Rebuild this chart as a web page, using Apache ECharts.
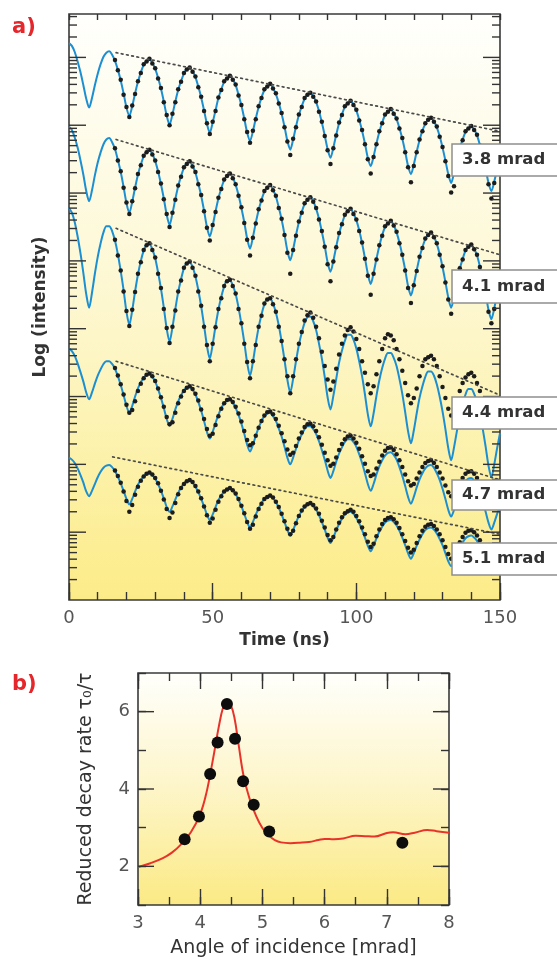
<!DOCTYPE html>
<html>
<head>
<meta charset="utf-8">
<script src="https://cdn.jsdelivr.net/npm/echarts/dist/echarts.min.js"></script>
<style>
  html, body { margin: 0; padding: 0; background: #ffffff; }
  #main { width: 557px; height: 960px; }
</style>
</head>
<body>
<div id="main"></div>
<script>
// ---------- Panel a: time spectra (log10 intensity, offset per angle) ----------
const fitTimes = [0,1,2,3,4,5,6,7,8,9,10,11,12,13,14,15,16,17,18,19,20,21,22,23,24,25,26,27,28,29,30,31,32,33,34,35,36,37,38,39,40,41,42,43,44,45,46,47,48,49,50,51,52,53,54,55,56,57,58,59,60,61,62,63,64,65,66,67,68,69,70,71,72,73,74,75,76,77,78,79,80,81,82,83,84,85,86,87,88,89,90,91,92,93,94,95,96,97,98,99,100,101,102,103,104,105,106,107,108,109,110,111,112,113,114,115,116,117,118,119,120,121,122,123,124,125,126,127,128,129,130,131,132,133,134,135,136,137,138,139,140,141,142,143,144,145,146,147,148,149,150];

const fit38 = [8.21,8.17,8.08,7.94,7.78,7.59,7.39,7.26,7.40,7.59,7.76,7.90,8.01,8.07,
  8.09,8.04,7.95,7.82,7.66,7.47,7.26,7.14,7.28,7.47,7.64,7.78,7.89,7.95,
  7.97,7.92,7.83,7.70,7.54,7.35,7.14,7.01,7.16,7.35,7.52,7.65,7.76,7.83,
  7.84,7.80,7.71,7.57,7.41,7.22,7.02,6.89,7.04,7.22,7.40,7.53,7.64,7.70,
  7.72,7.68,7.59,7.45,7.29,7.10,6.89,6.77,6.91,7.10,7.27,7.41,7.52,7.58,
  7.60,7.55,7.46,7.33,7.17,6.98,6.77,6.64,6.79,6.98,7.15,7.28,7.39,7.46,
  7.47,7.43,7.34,7.21,7.04,6.85,6.65,6.52,6.67,6.86,7.03,7.16,7.27,7.33,
  7.35,7.31,7.22,7.08,6.92,6.73,6.52,6.40,6.54,6.73,6.90,7.04,7.15,7.21,
  7.23,7.18,7.09,6.96,6.80,6.61,6.40,6.28,6.42,6.61,6.78,6.92,7.02,7.09,
  7.10,7.06,6.97,6.84,6.67,6.48,6.28,6.15,6.30,6.49,6.66,6.79,6.90,6.96,
  6.98,6.94,6.85,6.71,6.55,6.36,6.15,6.03,6.17,6.36,6.53];

const fit41 = [6.98,6.93,6.82,6.67,6.48,6.27,6.03,5.88,6.04,6.26,6.45,6.60,6.72,6.79,
  6.81,6.75,6.65,6.49,6.31,6.09,5.85,5.71,5.87,6.08,6.27,6.42,6.54,6.61,
  6.63,6.58,6.47,6.32,6.13,5.92,5.68,5.53,5.70,5.91,6.10,6.25,6.37,6.44,
  6.46,6.40,6.30,6.14,5.96,5.74,5.50,5.36,5.52,5.73,5.92,6.07,6.19,6.26,
  6.28,6.23,6.12,5.97,5.78,5.57,5.33,5.18,5.35,5.56,5.75,5.90,6.02,6.09,
  6.11,6.05,5.95,5.79,5.61,5.39,5.15,5.01,5.17,5.38,5.57,5.72,5.84,5.91,
  5.93,5.88,5.77,5.62,5.43,5.22,4.98,4.84,5.00,5.21,5.40,5.55,5.67,5.74,
  5.76,5.70,5.60,5.45,5.26,5.04,4.81,4.66,4.82,5.03,5.22,5.38,5.50,5.56,
  5.58,5.53,5.42,5.27,5.08,4.87,4.63,4.49,4.65,4.86,5.05,5.20,5.32,5.39,
  5.41,5.36,5.25,5.10,4.91,4.69,4.46,4.31,4.47,4.68,4.88,5.03,5.15,5.22,
  5.23,5.18,5.08,4.92,4.73,4.52,4.28,4.14,4.30,4.51,4.70];

const fit44 = [5.78,5.71,5.57,5.36,5.11,4.82,4.51,4.31,4.53,4.81,5.06,5.26,5.42,5.51,
  5.51,5.44,5.30,5.10,4.85,4.57,4.25,4.06,4.27,4.55,4.80,5.00,5.15,5.24,
  5.25,5.17,5.04,4.83,4.59,4.31,4.00,3.81,4.02,4.29,4.54,4.73,4.89,4.97,
  4.98,4.91,4.77,4.57,4.33,4.05,3.75,3.56,3.77,4.04,4.28,4.47,4.62,4.71,
  4.71,4.64,4.51,4.31,4.07,3.80,3.50,3.31,3.51,3.78,4.02,4.21,4.36,4.44,
  4.44,4.37,4.24,4.05,3.81,3.54,3.25,3.06,3.26,3.52,3.76,3.94,4.09,4.17,
  4.18,4.11,3.98,3.78,3.56,3.29,2.99,2.81,3.01,3.26,3.50,3.68,3.82,3.91,
  3.91,3.84,3.71,3.52,3.30,3.03,2.74,2.56,2.75,3.01,3.24,3.42,3.56,3.64,
  3.64,3.57,3.45,3.26,3.04,2.77,2.49,2.31,2.50,2.75,2.98,3.15,3.29,3.37,
  3.37,3.31,3.18,3.00,2.78,2.52,2.24,2.06,2.25,2.49,2.72,2.89,3.03,3.11,
  3.11,3.04,2.92,2.73,2.52,2.26,1.98,1.81,2.00,2.24,2.46];

const fit47 = [3.71,3.67,3.60,3.49,3.36,3.22,3.06,2.96,3.06,3.19,3.31,3.40,3.48,3.52,
  3.52,3.48,3.41,3.30,3.17,3.02,2.86,2.76,2.86,3.00,3.12,3.21,3.28,3.32,
  3.33,3.29,3.22,3.11,2.98,2.83,2.67,2.57,2.67,2.81,2.93,3.02,3.09,3.13,
  3.14,3.10,3.03,2.92,2.79,2.64,2.48,2.38,2.48,2.61,2.73,2.83,2.90,2.94,
  2.95,2.91,2.83,2.73,2.60,2.45,2.29,2.19,2.29,2.42,2.54,2.64,2.71,2.75,
  2.76,2.71,2.64,2.53,2.41,2.26,2.10,2.00,2.10,2.23,2.35,2.44,2.52,2.56,
  2.56,2.52,2.45,2.34,2.21,2.07,1.91,1.80,1.90,2.04,2.16,2.25,2.33,2.37,
  2.37,2.33,2.26,2.15,2.02,1.87,1.71,1.61,1.71,1.85,1.97,2.06,2.13,2.17,
  2.18,2.14,2.07,1.96,1.83,1.68,1.52,1.42,1.52,1.66,1.78,1.87,1.94,1.98,
  1.99,1.95,1.87,1.77,1.64,1.49,1.33,1.23,1.33,1.46,1.58,1.68,1.75,1.79,
  1.80,1.76,1.68,1.57,1.45,1.30,1.14,1.04,1.14,1.27,1.39];

const fit51 = [2.10,2.07,2.02,1.94,1.84,1.73,1.60,1.53,1.61,1.71,1.81,1.89,1.95,1.98,
  1.99,1.96,1.90,1.82,1.72,1.61,1.49,1.41,1.49,1.60,1.70,1.77,1.83,1.86,
  1.87,1.84,1.79,1.71,1.61,1.50,1.37,1.30,1.38,1.48,1.58,1.66,1.72,1.75,
  1.76,1.73,1.67,1.59,1.49,1.38,1.26,1.18,1.26,1.37,1.47,1.54,1.60,1.63,
  1.64,1.61,1.56,1.48,1.38,1.27,1.15,1.07,1.15,1.26,1.35,1.43,1.49,1.52,
  1.53,1.50,1.44,1.36,1.26,1.15,1.03,0.95,1.03,1.14,1.24,1.31,1.37,1.40,
  1.41,1.38,1.33,1.25,1.15,1.04,0.92,0.84,0.92,1.03,1.12,1.20,1.26,1.29,
  1.30,1.27,1.21,1.13,1.03,0.92,0.80,0.72,0.80,0.91,1.01,1.08,1.14,1.17,
  1.18,1.15,1.10,1.02,0.92,0.81,0.69,0.61,0.69,0.80,0.89,0.97,1.03,1.06,
  1.07,1.04,0.98,0.90,0.81,0.69,0.57,0.50,0.58,0.68,0.78,0.85,0.91,0.94,
  0.95,0.92,0.87,0.79,0.69,0.58,0.46,0.38,0.46,0.57,0.66];

// measured counts, one channel per ns from 16 to 148 ns
const dotTimes = [16,17,18,19,20,21,22,23,24,25,26,27,28,29,30,31,32,33,34,35,36,37,38,39,40,41,42,43,44,45,46,47,48,49,50,51,52,53,54,55,56,57,58,59,60,61,62,63,64,65,66,67,68,69,70,71,72,73,74,75,76,77,78,79,80,81,82,83,84,85,86,87,88,89,90,91,92,93,94,95,96,97,98,99,100,101,102,103,104,105,106,107,108,109,110,111,112,113,114,115,116,117,118,119,120,121,122,123,124,125,126,127,128,129,130,131,132,133,134,135,136,137,138,139,140,141,142,143,144,145,146,147,148];

const dots38 = [7.96,7.81,7.67,7.45,7.27,7.12,7.29,7.46,7.65,7.77,7.90,7.94,
  7.98,7.91,7.84,7.69,7.55,7.34,7.15,7.00,7.17,7.34,7.53,7.64,7.77,7.82,
  7.85,7.79,7.72,7.56,7.42,7.21,7.03,6.87,7.05,7.21,7.41,7.52,7.65,7.69,
  7.73,7.67,7.60,7.44,7.30,7.09,6.90,6.74,6.92,7.09,7.28,7.40,7.53,7.57,
  7.61,7.54,7.47,7.32,7.18,6.97,6.76,6.56,6.80,6.97,7.16,7.27,7.40,7.45,
  7.48,7.42,7.35,7.20,7.05,6.84,6.63,6.43,6.66,6.85,7.04,7.15,7.28,7.32,
  7.36,7.30,7.23,7.07,6.93,6.72,6.50,6.29,6.53,6.72,6.91,7.03,7.16,7.20,
  7.24,7.17,7.10,6.95,6.81,6.60,6.38,6.16,6.40,6.60,6.79,6.91,7.03,7.08,
  7.11,7.05,6.98,6.83,6.68,6.47,6.25,6.01,6.10,6.47,6.67,6.78,6.91,6.95,
  6.99,6.93,6.86,6.70,6.56,6.35,6.13,5.92,6.15];

const dots41 = [6.66,6.48,6.32,6.08,5.86,5.69,5.88,6.07,6.28,6.41,6.55,6.60,
  6.64,6.57,6.48,6.31,6.14,5.91,5.69,5.50,5.71,5.90,6.11,6.24,6.38,6.43,
  6.47,6.39,6.31,6.13,5.97,5.73,5.49,5.30,5.53,5.72,5.93,6.06,6.20,6.25,
  6.29,6.22,6.13,5.96,5.79,5.56,5.31,5.08,5.34,5.55,5.76,5.89,6.03,6.08,
  6.12,6.04,5.96,5.78,5.62,5.38,5.12,4.81,5.16,5.37,5.58,5.71,5.85,5.90,
  5.94,5.87,5.78,5.61,5.44,5.21,4.95,4.70,4.99,5.20,5.41,5.54,5.68,5.73,
  5.77,5.69,5.61,5.44,5.27,5.03,4.78,4.50,4.81,5.02,5.23,5.37,5.51,5.55,
  5.59,5.52,5.43,5.26,5.09,4.86,4.60,4.38,4.64,4.85,5.06,5.19,5.33,5.38,
  5.42,5.35,5.26,5.09,4.92,4.68,4.43,4.22,4.46,4.67,4.89,5.02,5.16,5.21,
  5.24,5.17,5.09,4.91,4.74,4.51,4.25,4.08,4.29];

const dots44 = [5.31,5.08,4.86,4.55,4.26,4.04,4.28,4.54,4.81,4.98,5.16,5.23,
  5.26,5.16,5.05,4.81,4.60,4.29,4.01,3.79,4.03,4.27,4.55,4.71,4.90,4.96,
  4.99,4.90,4.78,4.55,4.34,4.03,3.76,3.52,3.78,4.02,4.29,4.45,4.63,4.70,
  4.72,4.63,4.52,4.29,4.08,3.78,3.51,3.27,3.52,3.76,4.03,4.19,4.37,4.43,
  4.45,4.36,4.25,4.03,3.82,3.55,3.30,3.05,3.30,3.55,3.78,3.95,4.12,4.20,
  4.24,4.16,4.03,3.86,3.66,3.45,3.25,3.10,3.22,3.41,3.62,3.78,3.90,3.98,
  4.02,3.96,3.85,3.70,3.52,3.35,3.18,3.05,3.15,3.33,3.52,3.70,3.86,3.92,
  3.90,3.83,3.70,3.55,3.38,3.20,3.02,2.90,2.98,3.12,3.30,3.45,3.55,3.58,
  3.60,3.55,3.45,3.30,3.14,2.98,2.82,2.72,2.80,2.92,3.08,3.20,3.28,3.33,
  3.35,3.30,3.20,3.08,2.94,2.80,2.70,2.66,2.75];

const dots47 = [3.42,3.31,3.18,3.03,2.88,2.76,2.80,2.93,3.08,3.19,3.27,3.32,
  3.34,3.30,3.23,3.12,2.99,2.85,2.70,2.59,2.62,2.76,2.90,3.00,3.08,3.13,
  3.15,3.11,3.04,2.94,2.81,2.67,2.52,2.42,2.45,2.58,2.71,2.82,2.90,2.95,
  2.96,2.92,2.85,2.75,2.63,2.49,2.36,2.28,2.31,2.42,2.54,2.64,2.72,2.77,
  2.78,2.74,2.67,2.57,2.46,2.34,2.22,2.14,2.17,2.27,2.38,2.47,2.55,2.59,
  2.60,2.56,2.49,2.40,2.29,2.17,2.06,1.98,2.01,2.10,2.21,2.30,2.37,2.41,
  2.42,2.38,2.32,2.23,2.12,2.01,1.90,1.83,1.85,1.94,2.04,2.13,2.20,2.24,
  2.25,2.21,2.15,2.06,1.96,1.85,1.75,1.69,1.71,1.79,1.88,1.96,2.02,2.05,
  2.06,2.02,1.96,1.88,1.79,1.69,1.59,1.53,1.55,1.63,1.72,1.80,1.86,1.89,
  1.90,1.86,1.80,1.72,1.63,1.53,1.44,1.38,1.40];

const dots51 = [1.91,1.83,1.73,1.60,1.46,1.30,1.40,1.55,1.67,1.76,1.82,1.86,
  1.88,1.85,1.80,1.72,1.61,1.48,1.34,1.21,1.29,1.43,1.56,1.65,1.71,1.75,
  1.77,1.74,1.68,1.60,1.50,1.38,1.25,1.14,1.20,1.33,1.45,1.53,1.60,1.63,
  1.65,1.62,1.57,1.49,1.39,1.28,1.15,1.05,1.11,1.23,1.34,1.42,1.49,1.52,
  1.54,1.51,1.45,1.37,1.27,1.16,1.05,0.97,1.02,1.13,1.24,1.32,1.38,1.41,
  1.43,1.40,1.35,1.27,1.17,1.07,0.96,0.88,0.93,1.04,1.14,1.22,1.28,1.31,
  1.33,1.30,1.24,1.16,1.07,0.97,0.86,0.78,0.83,0.94,1.04,1.12,1.18,1.21,
  1.22,1.19,1.14,1.06,0.97,0.87,0.77,0.70,0.74,0.84,0.94,1.02,1.08,1.11,
  1.12,1.09,1.04,0.97,0.88,0.78,0.68,0.61,0.65,0.75,0.85,0.93,0.99,1.02,
  1.03,1.00,0.95,0.88,0.79,0.70,0.60,0.53,0.57];

// decay envelopes (straight lines in log scale), start -> 150 ns
const angleLabels = ['3.8 mrad', '4.1 mrad', '4.4 mrad', '4.7 mrad', '5.1 mrad'];
const decayStartT = [16.4, 16.4, 16.4, 16.4, 15.2];
const decayStartV = [8.07, 6.79, 5.48, 3.52, 2.11];
const decayEndT = [150, 150, 150, 150, 150];
const decayEndV = [6.91, 5.09, 3.02, 1.77, 0.97];
const timeTicks = [0, 50, 100, 150];

// ---------- Panel b: reduced decay rate vs angle ----------
const angleDots = [3.75, 3.98, 4.16, 4.28, 4.43, 4.56, 4.69, 4.86, 5.11, 7.25];
const rateDots  = [2.70, 3.29, 4.39, 5.20, 6.20, 5.30, 4.20, 3.59, 2.90, 2.61];
const curveAngle = [3.0,3.2,3.4,3.55,3.7,3.85,4.0,4.1,4.2,4.3,4.37,4.43,4.49,4.55,4.62,4.7,4.8,4.9,5.0,5.1,5.2,5.3,5.45,5.6,5.75,5.9,6.0,6.15,6.3,6.5,6.65,6.8,7.0,7.1,7.3,7.45,7.65,7.8,8.0];
const curveRate  = [1.98,2.08,2.21,2.36,2.58,2.88,3.35,3.90,4.72,5.62,6.12,6.30,6.18,5.85,5.12,4.32,3.72,3.30,2.99,2.80,2.68,2.62,2.60,2.61,2.63,2.68,2.71,2.70,2.72,2.79,2.78,2.77,2.86,2.88,2.83,2.87,2.94,2.91,2.87];

const FONT = 'DejaVu Sans';
const INK = '#333333';
const fits = [fit38, fit41, fit44, fit47, fit51];
const dots = [dots38, dots41, dots44, dots47, dots51];

// log-axis style tick marks: long at each decade, short at 2..9
const logTicks = [];
for (let n = 0; n <= 8; n++) {
  if (n > 0) logTicks.push([n, 17]);
  for (let k = 2; k <= 9; k++) {
    const v = n + Math.log10(k);
    if (v < 8.64) logTicks.push([v, 8]);
  }
}
const rateLongTicks = [[2, 16], [4, 16], [6, 16]];

function edgeTicks(xMin, xMax) {
  return function (params, api) {
    const v = api.value(0), len = api.value(1);
    const a = api.coord([xMin, v]);
    const b = api.coord([xMax, v]);
    const st = { stroke: INK, lineWidth: 1.4 };
    return {
      type: 'group',
      children: [
        { type: 'line', shape: { x1: a[0], y1: a[1], x2: a[0] + len, y2: a[1] }, style: st },
        { type: 'line', shape: { x1: b[0] - len, y1: b[1], x2: b[0], y2: b[1] }, style: st }
      ]
    };
  };
}

const series = [];
fits.forEach(function (fit) {
  series.push({
    type: 'line', xAxisIndex: 0, yAxisIndex: 0, silent: true,
    data: fitTimes.map(function (t, i) { return [t, fit[i]]; }),
    smooth: 0.3, showSymbol: false, symbol: 'none',
    lineStyle: { color: '#1b8fd2', width: 2 }, z: 2
  });
});
dots.forEach(function (d) {
  series.push({
    type: 'scatter', xAxisIndex: 0, yAxisIndex: 0, silent: true,
    data: dotTimes.map(function (t, i) { return [t, d[i]]; }),
    symbolSize: 4.5, itemStyle: { color: '#1c1c1c', opacity: 1 }, z: 3
  });
});
decayStartT.forEach(function (t0, i) {
  series.push({
    type: 'line', xAxisIndex: 0, yAxisIndex: 0, silent: true,
    data: [[t0, decayStartV[i]], [decayEndT[i], decayEndV[i]]],
    showSymbol: false, symbol: 'none',
    lineStyle: { color: '#4a4a4a', width: 1.7, type: [1.7, 3.6], cap: 'round' }, z: 4
  });
});
series.push({
  type: 'custom', xAxisIndex: 0, yAxisIndex: 0, silent: true,
  data: logTicks, encode: { x: 1, y: 0 }, renderItem: edgeTicks(0, 150), z: 5
});
series.push({
  type: 'line', xAxisIndex: 3, yAxisIndex: 1, silent: true,
  data: curveAngle.map(function (a, i) { return [a, curveRate[i]]; }),
  smooth: 0.4, showSymbol: false, symbol: 'none',
  lineStyle: { color: '#e8332a', width: 2 }, z: 2
});
series.push({
  type: 'scatter', xAxisIndex: 3, yAxisIndex: 1, silent: true,
  data: angleDots.map(function (a, i) { return [a, rateDots[i]]; }),
  symbolSize: 12, itemStyle: { color: '#0d0d0d', opacity: 1 }, z: 3
});
series.push({
  type: 'custom', xAxisIndex: 3, yAxisIndex: 1, silent: true,
  data: rateLongTicks, encode: { x: 1, y: 0 }, renderItem: edgeTicks(3, 8), z: 5
});

function bg(top, mid, bottom) {
  return new echarts.graphic.LinearGradient(0, 0, 0, 1, [
    { offset: 0, color: top }, { offset: 0.5, color: mid }, { offset: 1, color: bottom }
  ]);
}

function tickAxis(grid, pos, min, max, interval, len, extra) {
  return Object.assign({
    gridIndex: grid, type: 'value', position: pos, min: min, max: max, interval: interval,
    axisLine: { show: false }, splitLine: { show: false },
    axisTick: { show: true, inside: true, length: len, lineStyle: { color: INK, width: 1.4 } },
    axisLabel: { show: false }
  }, extra || {});
}

const labelStyle = { fontFamily: FONT, fontSize: 18, color: '#555555' };

// annotation boxes for the angle of each spectrum, drawn over the curves
const boxTops = [144, 270, 397, 480, 543];
const boxHeights = [32, 33, 32, 30, 32];
const graphics = [
  { type: 'text', left: 12, top: 17, z: 100, zlevel: 1, style: { text: 'a)', fill: '#e5262b', font: 'bold 21px "DejaVu Sans"' } },
  { type: 'text', left: 12, top: 674, z: 100, zlevel: 1, style: { text: 'b)', fill: '#e5262b', font: 'bold 21px "DejaVu Sans"' } }
];
angleLabels.forEach(function (txt, i) {
  graphics.push({
    type: 'rect', x: 452, y: boxTops[i], z: 100, zlevel: 1,
    shape: { x: 0, y: 0, width: 115, height: boxHeights[i] },
    style: { fill: '#ffffff', stroke: '#8f8f8f', lineWidth: 1.5 }
  });
  graphics.push({
    type: 'text', x: 462, y: boxTops[i] + boxHeights[i] / 2, z: 101, zlevel: 1,
    style: { text: txt, fill: INK, font: 'bold 16.5px "DejaVu Sans"', verticalAlign: 'middle' }
  });
});

const chart = echarts.init(document.getElementById('main'), null, { renderer: 'canvas' });
chart.setOption({
  animation: false,
  backgroundColor: '#ffffff',
  textStyle: { fontFamily: FONT },
  grid: [
    { left: 69, top: 14, width: 431, height: 586, show: true,
      backgroundColor: bg('#fffffd', '#fdf7cf', '#fcec88'), borderColor: '#3a3a3a', borderWidth: 1.6 },
    { left: 138, top: 673, width: 311, height: 232, show: true,
      backgroundColor: bg('#fffffc', '#fdf5c8', '#fbea84'), borderColor: '#3a3a3a', borderWidth: 1.6 }
  ],
  xAxis: [
    tickAxis(0, 'bottom', 0, 150, 50, 17, {
      axisLabel: Object.assign({ show: true, margin: 9,
        formatter: function (v) { return timeTicks.indexOf(v) >= 0 ? String(v) : ''; } }, labelStyle),
      name: 'Time (ns)', nameLocation: 'middle', nameGap: 25,
      nameTextStyle: { fontFamily: FONT, fontSize: 17, fontWeight: 'bold', color: INK }
    }),
    tickAxis(0, 'bottom', 0, 150, 10, 8),
    tickAxis(0, 'top', 0, 150, 10, 6),
    tickAxis(1, 'bottom', 3, 8, 1, 16, {
      axisLabel: Object.assign({ show: true, margin: 9 }, labelStyle),
      name: 'Angle of incidence [mrad]', nameLocation: 'middle', nameGap: 34,
      nameTextStyle: { fontFamily: FONT, fontSize: 19, color: INK }
    }),
    tickAxis(1, 'bottom', 3, 8, 0.5, 8),
    tickAxis(1, 'top', 3, 8, 1, 16),
    tickAxis(1, 'top', 3, 8, 0.5, 8)
  ],
  yAxis: [
    { gridIndex: 0, type: 'value', min: 0, max: 8.64,
      axisLine: { show: false }, axisTick: { show: false }, axisLabel: { show: false }, splitLine: { show: false },
      name: 'Log (intensity)', nameLocation: 'middle', nameGap: 20, nameRotate: 90,
      nameTextStyle: { fontFamily: FONT, fontSize: 17, fontWeight: 'bold', color: INK } },
    tickAxis(1, 'left', 1, 7, 1, 8, {
      axisLabel: Object.assign({ show: true, margin: 8,
        formatter: function (v) { return v % 2 === 0 ? String(v) : ''; } }, labelStyle),
      name: 'Reduced decay rate τ₀/τ', nameLocation: 'middle', nameGap: 42, nameRotate: 90,
      nameTextStyle: { fontFamily: FONT, fontSize: 19, color: INK }
    }),
    tickAxis(1, 'right', 1, 7, 1, 8)
  ],
  series: series,
  graphic: graphics
});
</script>
</body>
</html>
